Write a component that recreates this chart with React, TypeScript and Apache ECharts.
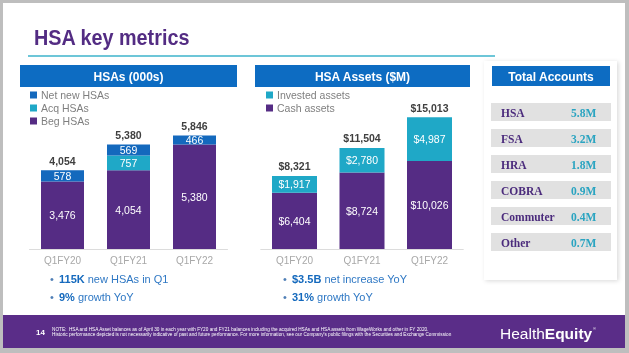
import React, { useEffect, useRef } from "react";
import * as echarts from "echarts";

const categories = ["Q1FY20", "Q1FY21", "Q1FY22"];
const begHSAs = [3476, 4054, 5380];
const acqHSAs = [0, 757, 0];
const netNewHSAs = [578, 569, 466];
const hsaTotals = [4054, 5380, 5846];
const cashAssets = [6404, 8724, 10026];
const investedAssets = [1917, 2780, 4987];
const assetTotals = [8321, 11504, 15013];
const accountTypes = ["HSA", "FSA", "HRA", "COBRA", "Commuter", "Other"];
const accountValues = ["5.8M", "3.2M", "1.8M", "0.9M", "0.4M", "0.7M"];

const SANS = "'Liberation Sans', Arial, sans-serif";
const SERIF = "'Liberation Serif', 'Times New Roman', serif";
const PURPLE = "#552c84";
const BLUE = "#1469bd";
const HEADER_BLUE = "#0d6cc2";
const TEAL = "#1fa8c7";

const fmt = (v: number) => v.toLocaleString("en-US");

export default function App() {
  const ref = useRef<HTMLDivElement>(null);
  useEffect(() => {
    if (!ref.current) return;
    const chart = echarts.init(ref.current, null, { renderer: "svg" });

    const txt = (text: string, x: number, y: number, extra: any = {}, el: any = {}) => ({
      type: "text",
      x,
      y,
      z: 10,
      ...el,
      style: {
        text,
        fill: "#fff",
        fontFamily: SANS,
        fontSize: 12,
        align: "left",
        verticalAlign: "middle",
        textAlign: "left",
        textVerticalAlign: "middle",
        ...extra,
      },
    });

    const header = (label: string, x: number, y: number, w: number, h: number) => [
      { type: "rect", z: 5, shape: { x, y, width: w, height: h }, style: { fill: HEADER_BLUE } },
      txt(label, x + w / 2, y + h / 2 + 0.5, { align: "center", textAlign: "center", fontWeight: "bold", fontSize: 12 }),
    ];

    const bullet = (x: number, y: number, bold: string, rest: string) => [
      txt("•", x, y, { fill: "#4f7fb6", fontSize: 11 }),
      {
        type: "text",
        x: x + 9,
        y,
        z: 10,
        style: {
          text: "{b|" + bold + "}" + rest,
          fill: "#2f78c4",
          fontFamily: SANS,
          fontSize: 11,
          verticalAlign: "middle",
          textVerticalAlign: "middle",
          rich: { b: { fontWeight: "bold", fill: BLUE, fontSize: 11, fontFamily: SANS } },
        },
      },
    ];

    const rows: any[] = [];
    accountTypes.forEach((name, i) => {
      const top = 103 + i * 26;
      rows.push({ type: "rect", z: 6, shape: { x: 491, y: top, width: 120, height: 18 }, style: { fill: "#e1e1e1" } });
      rows.push(txt(name, 501, top + 9.5, { fill: "#4b2b7c", fontFamily: SERIF, fontWeight: "bold", fontSize: 11.5 }));
      rows.push(txt(accountValues[i], 571, top + 9.5, { fill: "#2aa4c1", fontFamily: SERIF, fontWeight: "bold", fontSize: 11.5 }));
    });

    const insideLabel = (prefix: string) => ({
      show: true,
      position: "inside",
      color: "#fff",
      fontFamily: SANS,
      fontSize: 10.5,
      formatter: (p: any) => (p.value ? prefix + fmt(p.value) : ""),
    });
    const topLabel = (prefix: string) => ({
      show: true,
      position: "top",
      distance: 4,
      color: "#404040",
      fontFamily: SANS,
      fontWeight: "bold",
      fontSize: 10.5,
      formatter: (p: any) => prefix + fmt(p.value),
    });

    const xAxisBase = {
      type: "category",
      data: categories,
      axisTick: { show: false },
      axisLine: { lineStyle: { color: "#dcdcdc", width: 1 } },
      axisLabel: { color: "#a8a8a8", fontFamily: SANS, fontSize: 10, margin: 6 },
    };

    chart.setOption({
      animation: false,
      textStyle: { fontFamily: SANS },
      grid: [
        { left: 29.5, top: 113, width: 198, height: 136 },
        { left: 260.75, top: 108.5, width: 202.5, height: 140.5 },
      ],
      xAxis: [
        { ...xAxisBase, gridIndex: 0 },
        { ...xAxisBase, gridIndex: 1 },
      ],
      yAxis: [
        { type: "value", gridIndex: 0, min: 0, max: 7000, show: false, splitLine: { show: false } },
        { type: "value", gridIndex: 1, min: 0, max: 16000, show: false, splitLine: { show: false } },
      ],
      legend: [
        {
          data: ["Net new HSAs", "Acq HSAs", "Beg HSAs"],
          orient: "vertical",
          left: 30,
          top: 89,
          itemWidth: 7,
          itemHeight: 7,
          itemGap: 1,
          icon: "rect",
          padding: 0,
          textStyle: { color: "#7f7f7f", fontSize: 10.5, fontFamily: SANS, lineHeight: 12, padding: [0, 0, 0, -1] },
        },
        {
          data: ["Invested assets", "Cash assets"],
          orient: "vertical",
          left: 266,
          top: 89,
          itemWidth: 7,
          itemHeight: 7,
          itemGap: 1,
          icon: "rect",
          padding: 0,
          textStyle: { color: "#7f7f7f", fontSize: 10.5, fontFamily: SANS, lineHeight: 12, padding: [0, 0, 0, -1] },
        },
      ],
      series: [
        { name: "Beg HSAs", type: "bar", stack: "h", xAxisIndex: 0, yAxisIndex: 0, barWidth: 43, data: begHSAs, itemStyle: { color: PURPLE }, label: insideLabel("") },
        { name: "Acq HSAs", type: "bar", stack: "h", xAxisIndex: 0, yAxisIndex: 0, barWidth: 43, data: acqHSAs, itemStyle: { color: TEAL }, label: insideLabel("") },
        { name: "Net new HSAs", type: "bar", stack: "h", xAxisIndex: 0, yAxisIndex: 0, barWidth: 43, data: netNewHSAs, itemStyle: { color: BLUE }, label: insideLabel("") },
        { name: "HSA total", type: "bar", xAxisIndex: 0, yAxisIndex: 0, barWidth: 43, barGap: "-100%", data: hsaTotals, silent: true, itemStyle: { color: "rgba(0,0,0,0)" }, label: topLabel("") },
        { name: "Cash assets", type: "bar", stack: "a", xAxisIndex: 1, yAxisIndex: 1, barWidth: 45, data: cashAssets, itemStyle: { color: PURPLE }, label: insideLabel("$") },
        { name: "Invested assets", type: "bar", stack: "a", xAxisIndex: 1, yAxisIndex: 1, barWidth: 45, data: investedAssets, itemStyle: { color: TEAL }, label: insideLabel("$") },
        { name: "Asset total", type: "bar", xAxisIndex: 1, yAxisIndex: 1, barWidth: 45, barGap: "-100%", data: assetTotals, silent: true, itemStyle: { color: "rgba(0,0,0,0)" }, label: topLabel("$") },
      ],
      graphic: {
        elements: [
          { type: "rect", z: -10, shape: { x: 0, y: 0, width: 629, height: 353 }, style: { fill: "#bebebe" } },
          { type: "rect", z: -9, shape: { x: 3, y: 3, width: 622, height: 345 }, style: { fill: "#ffffff" } },
          txt("HSA key metrics", 34, 37, { fill: "#532c83", fontWeight: "bold", fontSize: 22 }, { scaleX: 0.9 }),
          { type: "line", z: 5, shape: { x1: 28, y1: 56, x2: 495, y2: 56 }, style: { stroke: "#3db3cb", lineWidth: 1.5 } },
          ...header("HSAs (000s)", 20, 65, 217, 22),
          ...header("HSA Assets ($M)", 255, 65, 215, 22),
          {
            type: "rect",
            z: 1,
            shape: { x: 484, y: 61, width: 133, height: 219 },
            style: { fill: "#ffffff", shadowBlur: 4, shadowColor: "rgba(0,0,0,0.15)", shadowOffsetX: 1.5, shadowOffsetY: 1 },
          },
          ...header("Total Accounts", 492, 66, 118, 20),
          ...rows,
          ...bullet(50, 279, "115K", " new HSAs in Q1"),
          ...bullet(50, 297, "9%", " growth YoY"),
          ...bullet(283, 279, "$3.5B", " net increase YoY"),
          ...bullet(283, 297, "31%", " growth YoY"),
          { type: "rect", z: 5, shape: { x: 3, y: 315, width: 622, height: 33 }, style: { fill: "#5a2d88" } },
          txt("14", 36, 332, { fontWeight: "bold", fontSize: 8 }),
          txt(
            "NOTE:  HSA and HSA Asset balances as of April 30 in each year with FY20 and FY21 balances including the acquired HSAs and HSA assets from WageWorks and other in FY 2020.",
            52,
            329.8,
            { fontSize: 4.7 }
          ),
          txt(
            "Historic performance depicted is not necessarily indicative of past and future performance. For more information, see our Company's public filings with the Securities and Exchange Commission",
            52,
            334.8,
            { fontSize: 4.7 }
          ),
          {
            type: "text",
            x: 500,
            y: 333,
            z: 10,
            style: {
              text: "Health{b|Equity}",
              fill: "#fff",
              fontFamily: SANS,
              fontSize: 15.5,
              verticalAlign: "middle",
              textVerticalAlign: "middle",
              rich: { b: { fontWeight: "bold", fill: "#fff", fontSize: 15.5, fontFamily: SANS } },
            },
          },
          txt("®", 593, 328, { fontSize: 4 }),
        ],
      },
    });
    return () => chart.dispose();
  }, []);

  return (
    <div
      ref={ref}
      style={{ position: "fixed", left: 0, top: 0, width: 629, height: 353 }}
    />
  );
}
